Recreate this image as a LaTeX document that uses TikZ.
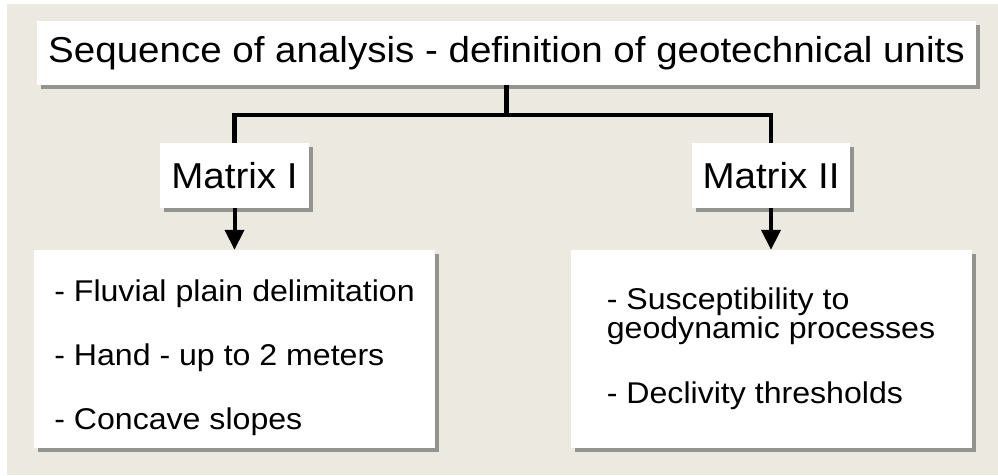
\documentclass[tikz,border=0pt]{standalone}
\usepackage{fontspec}
\setmainfont{Liberation Sans}
\newfontfamily\boxfont[FakeStretch=1.07]{Liberation Sans}
\usepackage{tikz}
\usetikzlibrary{positioning,arrows.meta,shadows}
\definecolor{paper}{RGB}{236,234,224}
\newcommand{\tightlines}{\setlength{\lineskiplimit}{-100pt}}

\begin{document}
\begin{tikzpicture}[x=1pt,y=1pt,
		every node/.style={on grid},
		boxS/.style={draw=none, fill=white, inner sep=0pt,
			drop shadow={shadow xshift=4pt, shadow yshift=-4pt, fill=black!65, opacity=.6}},
		topBox/.style={boxS, minimum width=939pt, minimum height=64pt,
			font=\boxfont\fontsize{36}{42}\selectfont},
		matBox/.style={boxS, minimum height=65pt,
			font=\boxfont\fontsize{36}{42}\selectfont},
		listBox/.style={boxS, minimum width=401pt, minimum height=198pt, align=left},
		conn/.style={line width=4.5pt},
		>={Triangle[width=19pt,length=20pt]}]
	\useasboundingbox (0,0) rectangle (998,-475);
	\fill[paper] (7,-4) rectangle (998,-475);

	\node[topBox] (seq) at (506.5,-53) {Sequence of analysis - definition of geotechnical units};

	\node[matBox, minimum width=149pt, below left=122.5pt and 272pt of seq] (mat1) {Matrix I};
	\node[matBox, minimum width=158pt, below right=122.5pt and 264.5pt of seq] (mat2) {Matrix II};

	\node[listBox, below=173.5pt of mat1,
		font=\boxfont\fontsize{30}{64}\selectfont] (lst1)
		{\rule{0pt}{40pt}- Fluvial plain delimitation\\- Hand - up to 2 meters\\- Concave slopes};
	\node[listBox, below=173.5pt of mat2,
		font=\boxfont\fontsize{30}{29}\selectfont\tightlines] (lst2)
		{- Susceptibility to\\geodynamic processes\\[36pt]- Declivity thresholds};

	% tree lines
	\coordinate[below=30pt of seq.south] (split);
	\draw[conn] (seq.south) -- (split);
	\draw[conn] (mat1.north) |- (split) -| (mat2.north);

	\draw[line width=4pt,->] (mat1) -- (lst1);
	\draw[line width=4pt,->] (mat2) -- (lst2);
\end{tikzpicture}
\end{document}
